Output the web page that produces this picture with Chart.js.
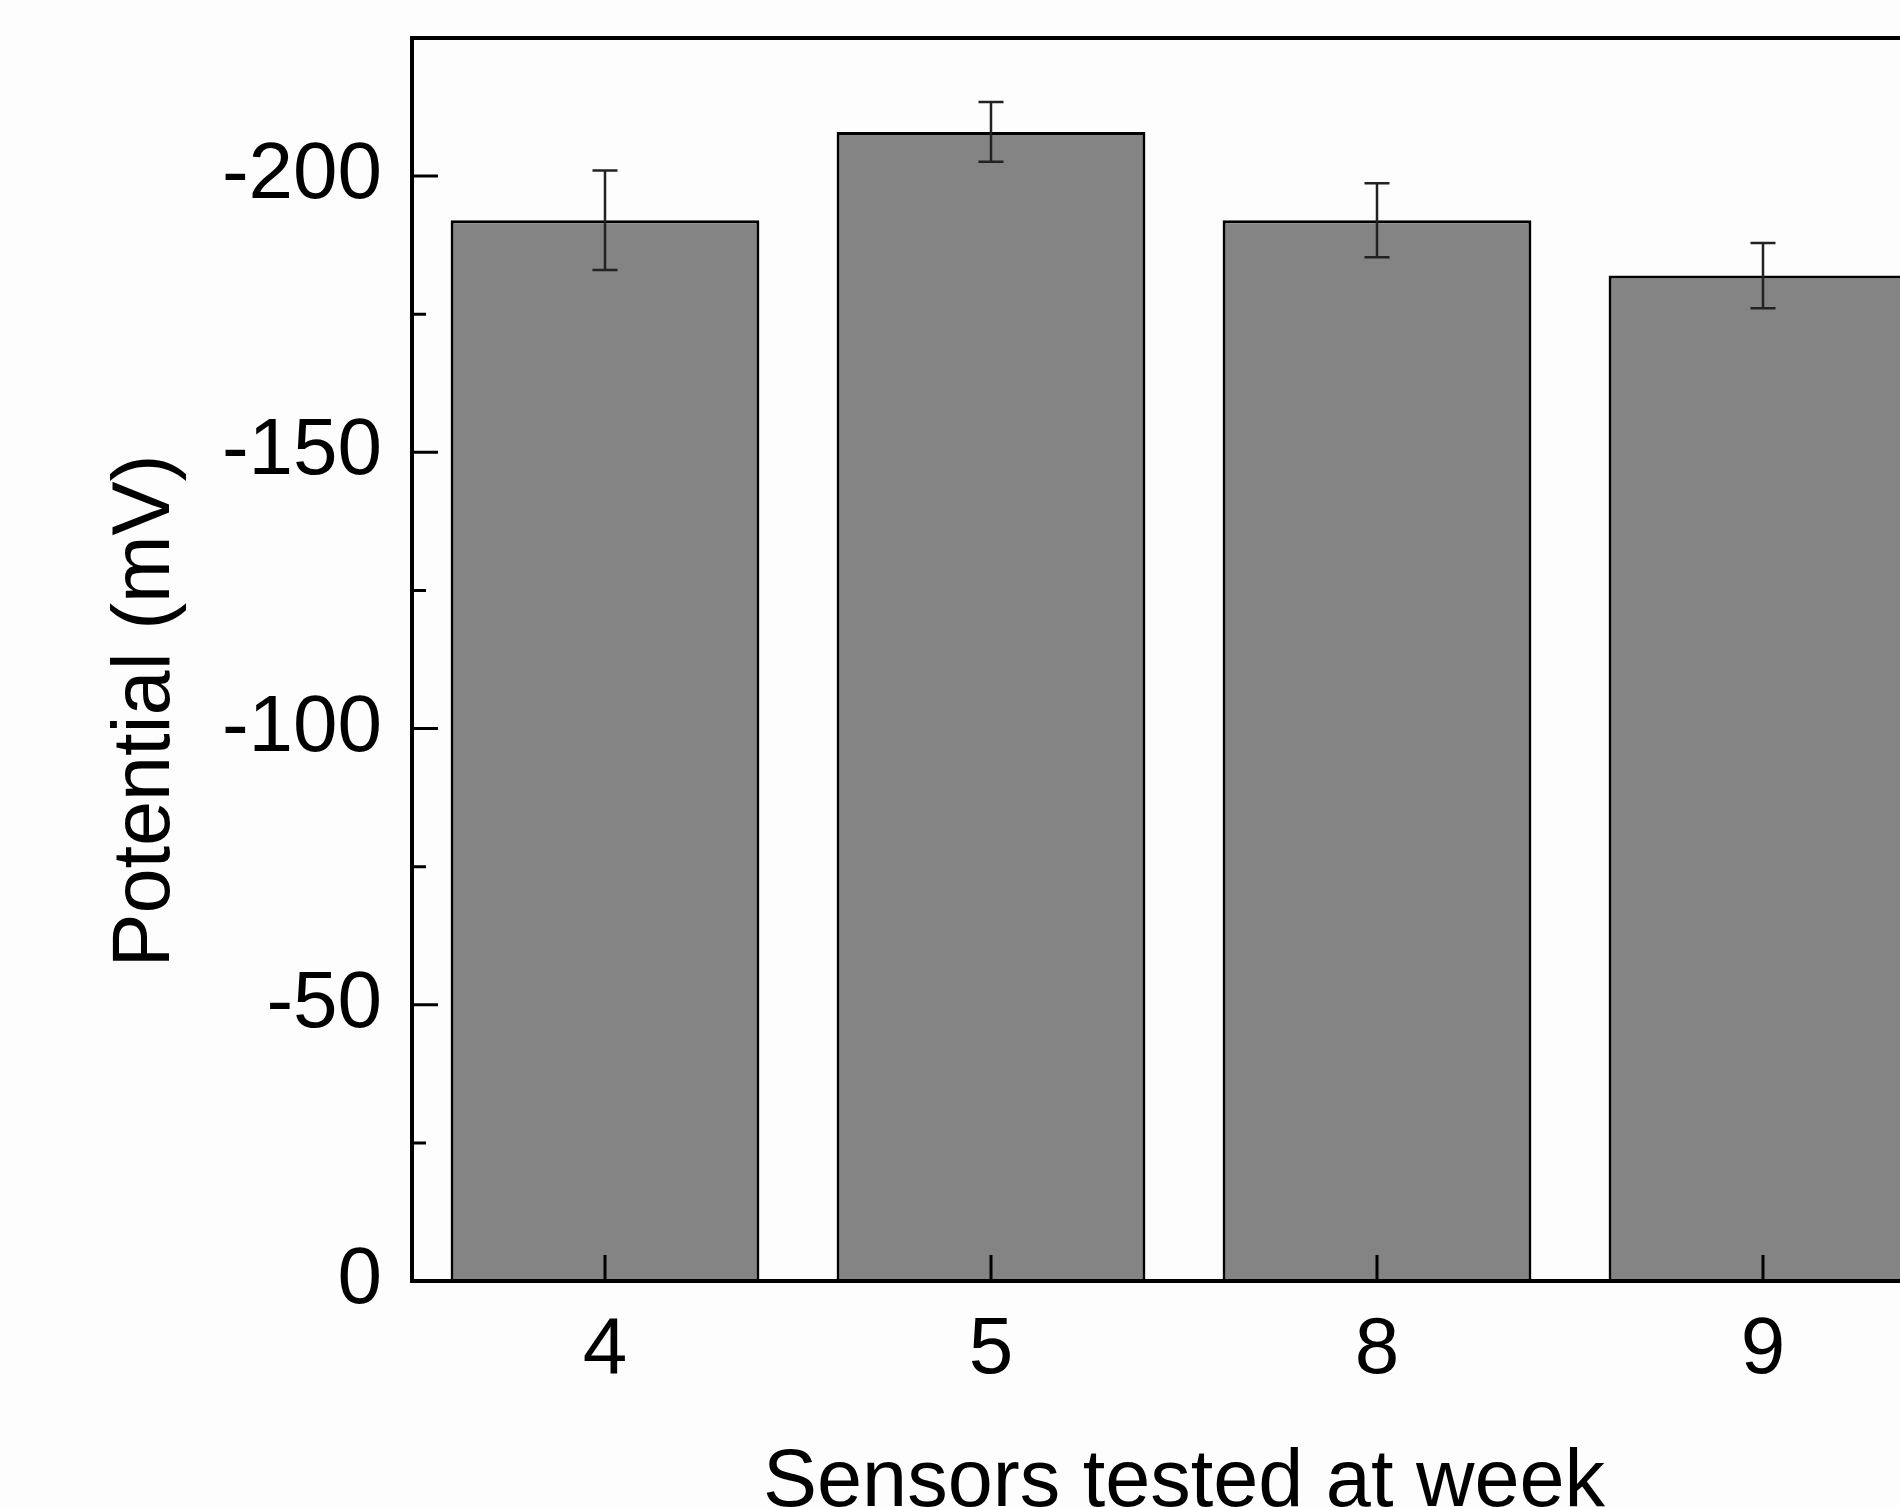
<!DOCTYPE html>
<html>
<head>
<meta charset="utf-8">
<script src="https://cdn.jsdelivr.net/npm/chart.js@4"></script>
<style>
  html, body { margin: 0; padding: 0; background: #fdfdfd; overflow: hidden; width: 1900px; height: 1507px; }
  #wrap { position: absolute; left: 0; top: 0; }
</style>
</head>
<body>
<div id="wrap"><canvas id="c" width="1980" height="1507"></canvas></div>
<script>
// ---- data ----
const weeks = ['4', '5', '8', '9'];
const potential = [-192, -208, -192, -182];
const potentialErr = [9, 5.4, 6.7, 5.9];
const yTickValues = [0, -50, -100, -150, -200];
const yMinorTickValues = [-25, -75, -125, -175];
const yMin = -225;
const yMax = 0;
const xTitle = 'Sensors tested at week';
const yTitle = 'Potential (mV)';

const FONT = '"Liberation Sans", Arial, sans-serif';

const decorPlugin = {
  id: 'decor',
  beforeDraw(chart) {
    const ctx = chart.ctx;
    ctx.save();
    ctx.fillStyle = '#fdfdfd';
    ctx.fillRect(0, 0, chart.width, chart.height);
    ctx.restore();
  },
  afterDatasetsDraw(chart) {
    const ctx = chart.ctx;
    const ys = chart.scales.y;
    const xs = chart.scales.x;
    const area = chart.chartArea;
    const meta = chart.getDatasetMeta(0);
    // error bars
    ctx.save();
    ctx.strokeStyle = '#222';
    ctx.lineWidth = 2.5;
    meta.data.forEach((el, i) => {
      const v = potential[i], e = potentialErr[i];
      const x = el.x;
      const y1 = ys.getPixelForValue(v - e);
      const y2 = ys.getPixelForValue(v + e);
      ctx.beginPath();
      ctx.moveTo(x, y1); ctx.lineTo(x, y2);
      ctx.moveTo(x - 12.5, y1); ctx.lineTo(x + 12.5, y1);
      ctx.moveTo(x - 12.5, y2); ctx.lineTo(x + 12.5, y2);
      ctx.stroke();
    });
    ctx.restore();

    // frame and ticks
    ctx.save();
    ctx.strokeStyle = '#000';
    ctx.lineWidth = 4;
    ctx.strokeRect(area.left, area.top, area.right - area.left, area.bottom - area.top);
    ctx.lineWidth = 3;
    ctx.beginPath();
    yTickValues.forEach(v => {
      const y = ys.getPixelForValue(v);
      ctx.moveTo(area.left, y); ctx.lineTo(area.left + 26, y);
    });
    yMinorTickValues.forEach(v => {
      const y = ys.getPixelForValue(v);
      ctx.moveTo(area.left, y); ctx.lineTo(area.left + 14, y);
    });
    weeks.forEach((w, i) => {
      const x = xs.getPixelForValue(i);
      ctx.moveTo(x, area.bottom); ctx.lineTo(x, area.bottom - 26);
    });
    ctx.stroke();
    ctx.restore();

    // axis titles
    ctx.save();
    ctx.fillStyle = '#000';
    ctx.font = '81px ' + FONT;
    ctx.textAlign = 'center';
    ctx.textBaseline = 'alphabetic';
    ctx.fillText(xTitle, (area.left + area.right) / 2, 1506);
    ctx.translate(169, 711);
    ctx.rotate(-Math.PI / 2);
    ctx.fillText(yTitle, 0, 0);
    ctx.restore();
  }
};

new Chart(document.getElementById('c'), {
  type: 'bar',
  data: {
    labels: weeks,
    datasets: [{
      data: potential,
      backgroundColor: '#848484',
      borderColor: '#000',
      borderWidth: 3,
      barPercentage: 0.8,
      categoryPercentage: 1.0
    }]
  },
  options: {
    responsive: false,
    animation: false,
    devicePixelRatio: 1,
    layout: { padding: { top: 0, right: 24, left: 0, bottom: 0 } },
    plugins: { legend: { display: false }, tooltip: { enabled: false } },
    scales: {
      x: {
        grid: { display: false, drawTicks: false },
        border: { display: false },
        ticks: { color: '#000', font: { size: 80, family: FONT }, padding: 22, maxRotation: 0 },
        afterFit(s) { s.height = 226; }
      },
      y: {
        reverse: true,
        min: yMin,
        max: yMax,
        grid: { display: false, drawTicks: false },
        border: { display: false },
        ticks: { color: '#000', font: { size: 80, family: FONT }, padding: 30 },
        afterBuildTicks(s) { s.ticks = yTickValues.map(v => ({ value: v })); },
        afterFit(s) { s.width = 412; s.paddingTop = 38; s.paddingBottom = 0; }
      }
    }
  },
  plugins: [decorPlugin]
});
</script>
</body>
</html>
